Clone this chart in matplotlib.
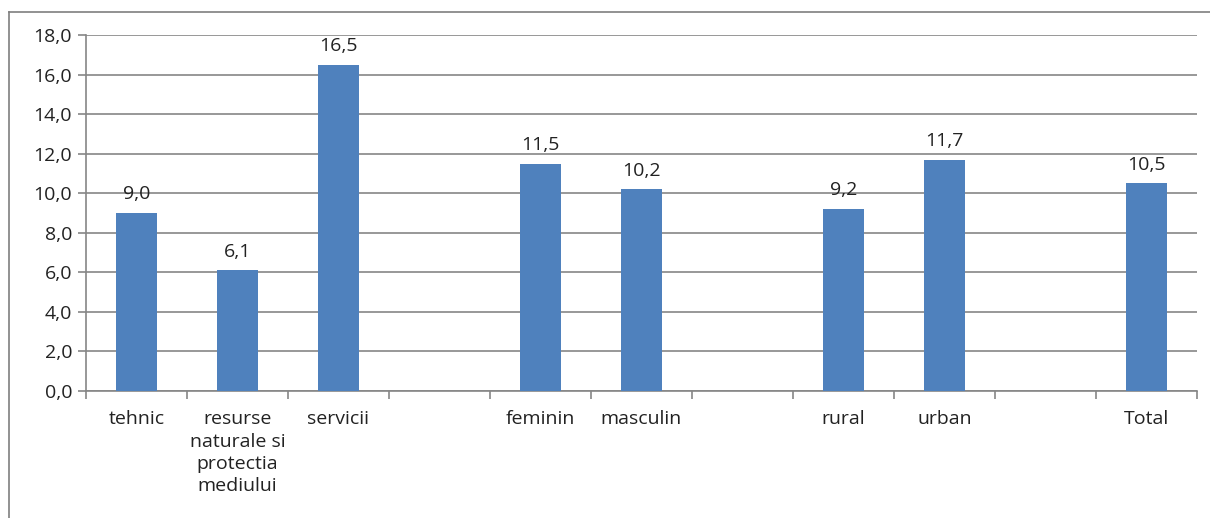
import matplotlib.pyplot as plt
from matplotlib.lines import Line2D

# categories (empty strings are the gaps between groups)
categories = ['tehnic', 'resurse\nnaturale si\nprotectia\nmediului', 'servicii', '',
              'feminin', 'masculin', '', 'rural', 'urban', '', 'Total']
values = [9.0, 6.1, 16.5, None, 11.5, 10.2, None, 9.2, 11.7, None, 10.5]
y_ticks = [0, 2, 4, 6, 8, 10, 12, 14, 16, 18]

plt.rcParams['font.family'] = ['Open Sans', 'DejaVu Sans']

W, H = 1210, 518
fig = plt.figure(figsize=(W / 100, H / 100), dpi=100)
ax = fig.add_axes([86 / W, 1 - 391 / H, (1197 - 86) / W, (391 - 35) / H])

bar_color = '#4F81BD'
grid_color = '#868686'
fs = 14

for i, v in enumerate(values):
    if v is None:
        continue
    ax.bar(i, v, width=0.41, color=bar_color, zorder=3)
    ax.annotate(f'{v:.1f}'.replace('.', ','), (i, v), xytext=(0, 7),
                textcoords='offset points', ha='center', va='bottom',
                fontsize=fs, color='#222222')

ax.set_xlim(-0.5, len(categories) - 0.5)
ax.set_ylim(0, 18)
ax.set_yticks(y_ticks)
ax.set_yticklabels([f'{t:.1f}'.replace('.', ',') for t in y_ticks])
ax.yaxis.grid(True, color=grid_color, linewidth=1.2, zorder=0)

# category labels without tick marks, tick marks at boundaries
ax.set_xticks(range(len(categories)))
ax.set_xticklabels(categories, linespacing=1.3, va='top')
ax.tick_params(axis='x', length=0, pad=14, labelsize=fs, colors='#222222')
ax.set_xticks([i - 0.5 for i in range(len(categories) + 1)], minor=True)
ax.tick_params(axis='x', which='minor', length=6, width=1.2, color=grid_color)
ax.tick_params(axis='y', length=6, width=1.2, color=grid_color, labelsize=fs,
               labelcolor='#222222', pad=4)

for s in ['top', 'right']:
    ax.spines[s].set_visible(False)
for s in ['left', 'bottom']:
    ax.spines[s].set_color(grid_color)
    ax.spines[s].set_linewidth(1.2)

# outer chart border (only top and left visible)
fig.add_artist(Line2D([9 / W, 9 / W], [0, 1 - 12 / H], transform=fig.transFigure,
                      color='#7f7f7f', linewidth=1.2))
fig.add_artist(Line2D([9 / W, 1], [1 - 12 / H, 1 - 12 / H], transform=fig.transFigure,
                      color='#7f7f7f', linewidth=1.2))

fig.savefig('out.png', dpi=100)
